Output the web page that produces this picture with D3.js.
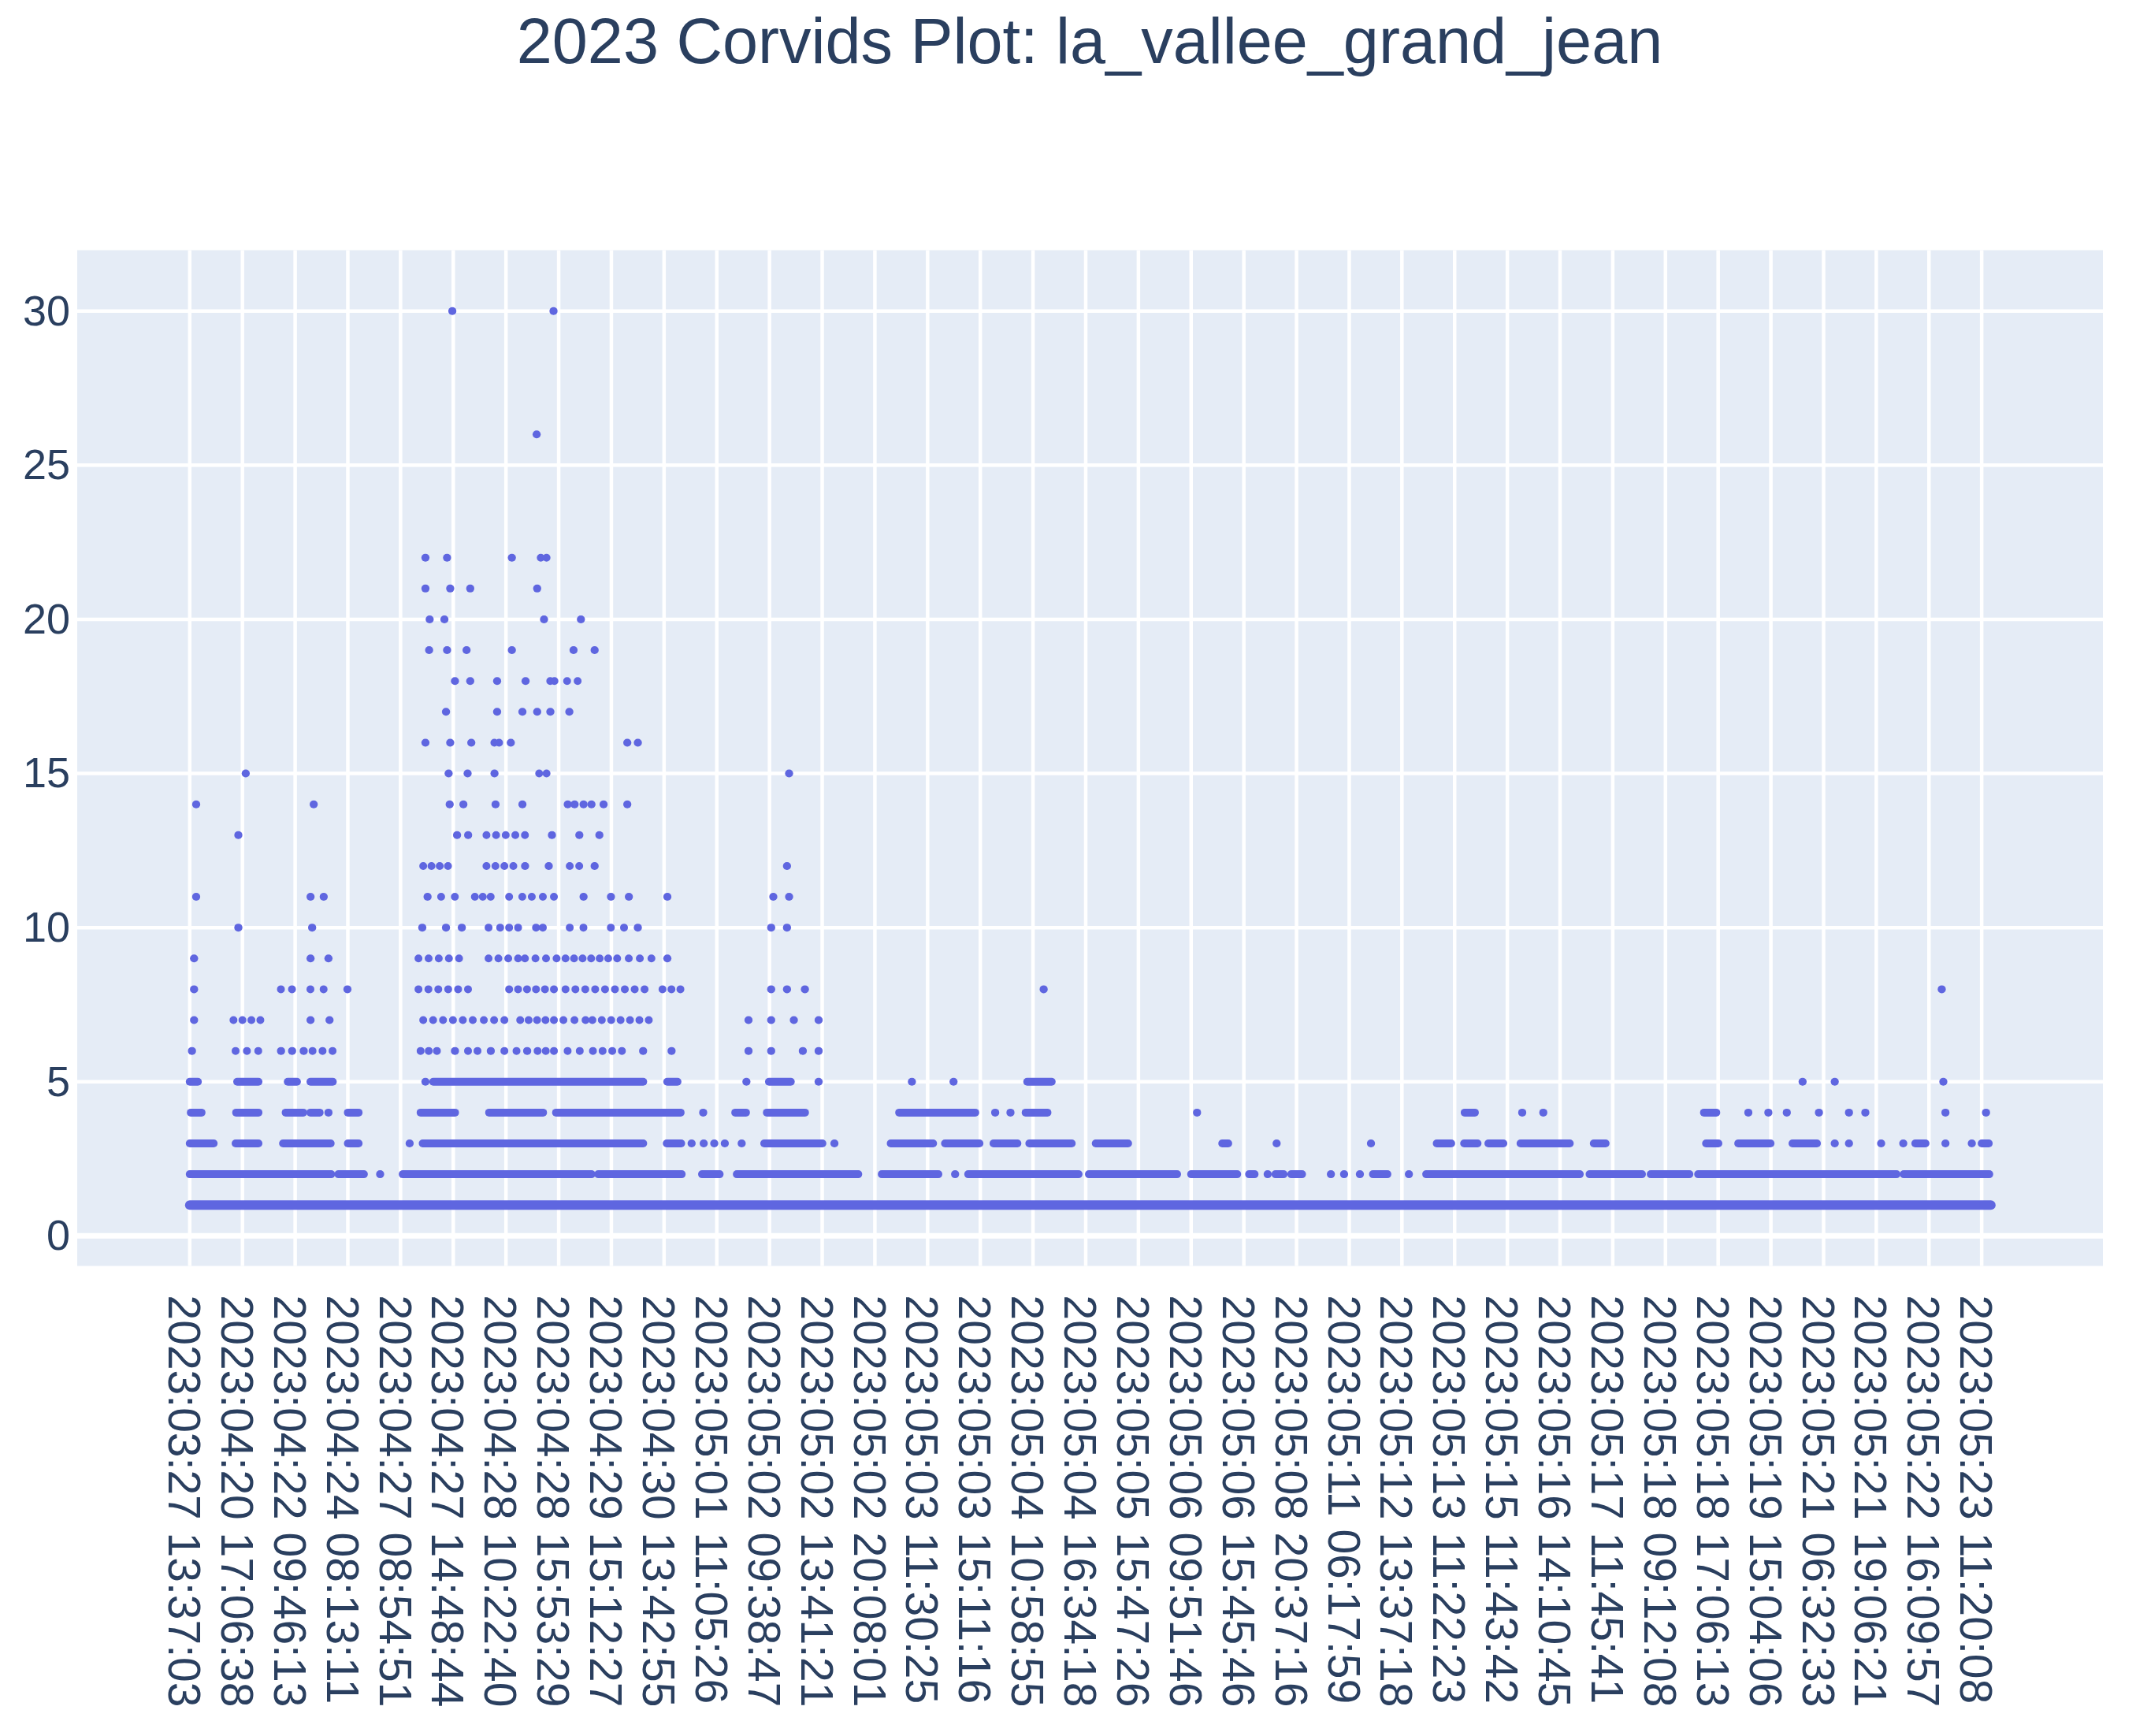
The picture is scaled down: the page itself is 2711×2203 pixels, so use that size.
<!DOCTYPE html>
<html>
<head>
<meta charset="utf-8">
<script src="https://cdn.jsdelivr.net/npm/d3@7"></script>
<style>
html, body { margin: 0; padding: 0; background: #ffffff; }
svg { display: block; }
</style>
</head>
<body>
<svg id="chart" width="2711" height="2203"></svg>
<script>
const chartTitle = "2023 Corvids Plot: la_vallee_grand_jean";

// Labelled categories on the x axis (every k-th timestamp is labelled)
const xTickLabels = [
  "2023:03:27 13:37:03", "2023:04:20 17:06:38", "2023:04:22 09:46:13", "2023:04:24 08:13:11",
  "2023:04:27 08:54:51", "2023:04:27 14:48:44", "2023:04:28 10:22:40", "2023:04:28 15:53:29",
  "2023:04:29 15:12:27", "2023:04:30 13:42:55", "2023:05:01 11:05:26", "2023:05:02 09:38:47",
  "2023:05:02 13:41:21", "2023:05:02 20:08:01", "2023:05:03 11:30:25", "2023:05:03 15:11:16",
  "2023:05:04 10:58:55", "2023:05:04 16:34:18", "2023:05:05 15:47:26", "2023:05:06 09:51:46",
  "2023:05:06 15:45:46", "2023:05:08 20:37:16", "2023:05:11 06:17:59", "2023:05:12 13:37:18",
  "2023:05:13 11:22:23", "2023:05:15 11:43:42", "2023:05:16 14:10:45", "2023:05:17 11:45:41",
  "2023:05:18 09:12:08", "2023:05:18 17:06:13", "2023:05:19 15:04:06", "2023:05:21 06:32:33",
  "2023:05:21 19:06:21", "2023:05:22 16:09:57", "2023:05:23 11:20:08"
];
const yTickValues = [0, 5, 10, 15, 20, 25, 30];

// Observed markers per count value. Positions are along the category axis,
// in units of labelled-tick steps (position i = xTickLabels[i]).
// A number = a lone marker; [a, b] = a run of adjacent markers merged into a band.
const count30 = [4.98, 6.9];
const count26 = [6.58];
const count22 = [4.47, 4.88, 6.11, [6.66, 6.77]];
const count21 = [4.47, 4.94, 5.32, 6.59];
const count20 = [4.55, 4.83, 6.72, 7.42];
const count19 = [4.54, 4.88, 5.25, 6.11, 7.28, 7.68];
const count18 = [5.03, 5.32, 5.83, 6.37, [6.84, 6.92], [7.16, 7.36]];
const count17 = [4.86, 5.83, 6.31, 6.59, 6.84, 7.2];
const count16 = [4.47, 4.94, 5.34, [5.78, 5.87], 6.09, 8.3, 8.5];
const count15 = [1.06, 4.91, 5.27, 5.78, [6.63, 6.77], 11.37];
const count14 = [0.12, 2.35, 4.93, 5.19, 5.8, 6.31, 7.17, 7.3, 7.47, 7.62, 7.85, 8.3];
const count13 = [0.92, 5.07, 5.28, [5.63, 6.36], 6.87, 7.39, 7.77];
const count12 = [[4.43, 4.9], [5.63, 6.14], 6.36, 6.81, [7.21, 7.39], 7.68, 11.33];
const count11 = [0.12, 2.29, 2.54, 4.51, [4.77, 5.03], [5.41, 5.71], [6.06, 6.31], [6.49, 6.91],
                 7.47, 7.99, 8.33, 9.06, 11.07, 11.37];
const count10 = [0.92, 2.32, 4.41, 4.86, 5.16, [5.67, 5.89], [6.06, 6.23], [6.57, 6.7], [7.21, 7.47],
                 [7.99, 8.24], 8.5, 11.03, 11.33];
const count9 = [0.08, 2.29, 2.63, [4.34, 5.11], [5.67, 6.23], [6.36, 6.96], [7.13, 7.94], [8.11, 8.33],
                [8.54, 8.76], 9.06];
const count8 = [0.08, [1.73, 1.94], [2.29, 2.54], 2.99, [4.34, 5.28], [6.06, 6.91], [7.13, 8.63],
                [8.97, 9.31], 11.03, 11.33, 11.67, 16.2, 33.24];
const count7 = [0.08, [0.83, 1.34], 2.29, 2.65, [4.43, 5.37], [5.58, 5.97], [6.27, 6.91], [7.09, 7.51],
                [7.64, 8.71], 10.6, 11.03, 11.46, 11.93];
const count6 = [0.04, [0.87, 1.3], 1.73, 1.94, 2.16, [2.33, 2.71], [4.38, 4.69], 5.03, [5.28, 5.46], 5.71,
                [5.97, 6.2], 6.4, [6.6, 6.91], [7.17, 7.4], [7.65, 8.2], 8.6, 9.14, 10.6, 11.03, 11.63, 11.93];
const count5 = [[0, 0.15], [0.9, 1.3], [1.86, 2.03], [2.29, 2.71], 4.47, [4.62, 8.6], [9.06, 9.25], 10.56,
                [10.99, 11.4], 11.93, 13.7, 14.49, [15.89, 16.35], 30.6, 31.21, 33.27];
const count4 = [[0.02, 0.22], [0.88, 1.3], [1.82, 2.15], [2.29, 2.46], 2.63, [3.0, 3.2], [4.38, 5.03],
                [5.68, 6.7], [6.95, 9.31], 9.74, [10.35, 10.55], [10.95, 11.67], [13.46, 14.9], 15.28,
                15.57, [15.86, 16.27], 19.11, [24.19, 24.38], 25.28, 25.68, [28.73, 28.96], 29.57, 29.95,
                30.3, 30.91, 31.48, 31.79, 33.31, 34.08];
const count3 = [[0, 0.45], [0.87, 1.3], [1.77, 2.67], [3.0, 3.2], 4.17, [4.42, 8.6], [9.05, 9.32], 9.52,
                9.75, 9.95, 10.15, 10.47, [10.9, 12.0], 12.23, [13.3, 14.1], [14.33, 14.98], [15.25, 15.7],
                [15.93, 16.73], [17.19, 17.8], [19.59, 19.7], 20.62, 22.41, [23.66, 23.93], [24.18, 24.43],
                [24.64, 24.92], [25.25, 26.18], [26.64, 26.86], [28.77, 29.0], [29.38, 29.99],
                [30.41, 30.87], 31.21, 31.48, 32.09, 32.51, [32.74, 32.93], 33.31, 33.81, [34.0, 34.13]];
const count2 = [[0, 2.68], [2.82, 3.3], 3.61, [4.04, 7.62], [7.75, 9.33], [9.72, 10.05], [10.38, 12.68],
                [13.13, 14.2], 14.52, [14.77, 16.86], [17.06, 18.73], [19.0, 19.87], [20.1, 20.2], 20.45,
                [20.6, 20.75], [20.9, 21.1], 21.65, 21.9, 22.2, [22.45, 22.72], 23.13, [23.46, 26.37],
                [26.56, 27.55], [27.72, 28.45], [28.62, 32.38], [32.52, 34.14]];
const count1 = [[0, 34.17]];

const countSeries = [
  [1, count1], [2, count2], [3, count3], [4, count4], [5, count5], [6, count6], [7, count7],
  [8, count8], [9, count9], [10, count10], [11, count11], [12, count12], [13, count13],
  [14, count14], [15, count15], [16, count16], [17, count17], [18, count18], [19, count19],
  [20, count20], [21, count21], [22, count22], [26, count26], [30, count30]
];

// Flatten into a table of marks
const marks = [];
countSeries.forEach(([v, arr]) => {
  arr.forEach(p => {
    if (Array.isArray(p)) marks.push({v, a: p[0], b: p[1]});
    else marks.push({v, a: p, b: p});
  });
});

// ---------- layout ----------
const svg = d3.select("#chart");
const plot = {left: 98, top: 317.5, right: 2669, bottom: 1606.5};
const FONT = "'Liberation Sans', Arial, 'Helvetica Neue', sans-serif";
const TEXT = "#2a3f5f";

const x = d3.scaleLinear().domain([-2.135, 36.30]).range([plot.left, plot.right]);
const y = d3.scaleLinear().domain([-0.975, 31.975]).range([plot.bottom, plot.top]);

svg.append("rect").attr("width", 2711).attr("height", 2203).attr("fill", "#ffffff");

svg.append("rect")
  .attr("x", plot.left).attr("y", plot.top)
  .attr("width", plot.right - plot.left).attr("height", plot.bottom - plot.top)
  .attr("fill", "#e5ecf6");

const xTickPos = d3.range(xTickLabels.length);

// vertical grid
svg.append("g").selectAll("line").data(xTickPos).join("line")
  .attr("x1", d => x(d)).attr("x2", d => x(d))
  .attr("y1", plot.top).attr("y2", plot.bottom)
  .attr("stroke", "#ffffff").attr("stroke-width", 4.5);

// horizontal grid
svg.append("g").selectAll("line").data(yTickValues.filter(v => v !== 0)).join("line")
  .attr("x1", plot.left).attr("x2", plot.right)
  .attr("y1", d => y(d)).attr("y2", d => y(d))
  .attr("stroke", "#ffffff").attr("stroke-width", 4.5);

// zero line
svg.append("line")
  .attr("x1", plot.left).attr("x2", plot.right)
  .attr("y1", y(0)).attr("y2", y(0))
  .attr("stroke", "#ffffff").attr("stroke-width", 7);

// markers: lone markers are dots; runs at low counts are drawn as merged bands,
// runs at higher counts as rows of separate markers (dotted stroke)
const MARK = "#5f66e0";
const dia = v => v === 1 ? 12 : 10;
const runLen = d => x(d.b) - x(d.a);
svg.append("g").selectAll("line").data(marks).join("line")
  .attr("x1", d => x(d.a))
  .attr("x2", d => x(d.a) + runLen(d) + 0.3)
  .attr("y1", d => y(d.v)).attr("y2", d => y(d.v))
  .attr("stroke", MARK)
  .attr("stroke-width", d => dia(d.v))
  .attr("stroke-linecap", "round")
  .attr("stroke-dasharray", d => {
    const L = runLen(d);
    if (d.v < 6 || L < 1) return null;
    const n = Math.max(1, Math.round(L / 12));
    const p = L / n;
    return `0.001 ${p - 0.001}`;
  });

// y axis
const yAxis = d3.axisLeft(y).tickValues(yTickValues).tickSize(0).tickPadding(9).tickFormat(d3.format("d"));
const gy = svg.append("g").attr("transform", `translate(${plot.left},0)`).call(yAxis);
gy.select(".domain").remove();
gy.selectAll("text")
  .attr("font-family", FONT).attr("font-size", 54).attr("fill", TEXT);

// x axis
const xAxis = d3.axisBottom(x).tickValues(xTickPos).tickSize(0).tickFormat(i => xTickLabels[i]);
const gx = svg.append("g").attr("transform", `translate(0,${plot.bottom})`).call(xAxis);
gx.select(".domain").remove();
gx.selectAll(".tick text")
  .attr("font-family", FONT).attr("font-size", 57).attr("fill", TEXT)
  .attr("text-anchor", "start")
  .attr("transform", "translate(0,37) rotate(90)")
  .attr("x", 0).attr("y", 0).attr("dy", "0.48em");

// title
svg.append("text")
  .attr("x", 1383).attr("y", 80)
  .attr("text-anchor", "middle")
  .attr("font-family", FONT).attr("font-size", 81).attr("fill", TEXT)
  .text(chartTitle);
</script>
</body>
</html>
